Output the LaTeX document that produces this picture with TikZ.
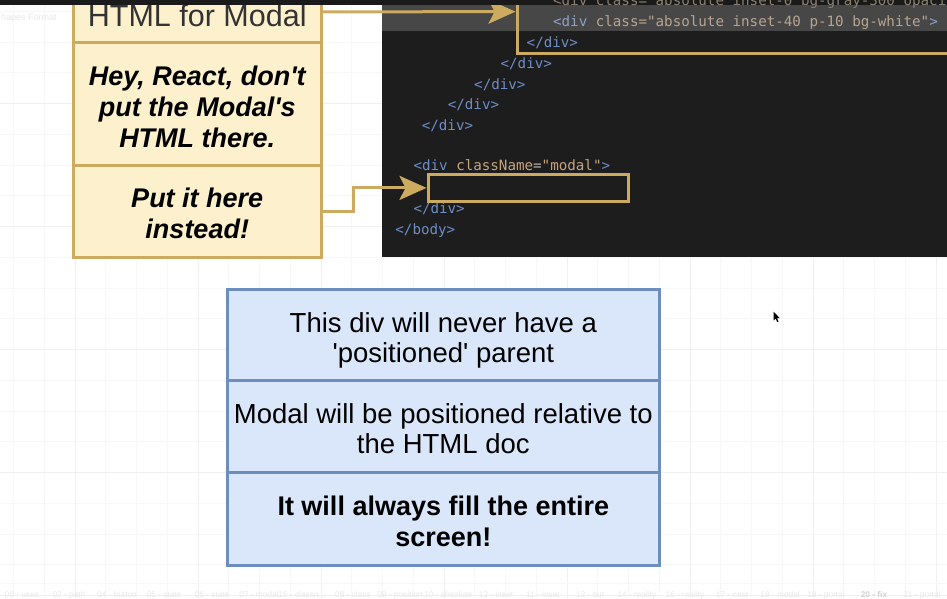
\documentclass[tikz,border=0pt]{standalone}
\usepackage{fontspec}
\setmainfont{Liberation Sans}[Ligatures=TeXOff]
\newfontfamily\codefont{DejaVu Sans Mono}[Ligatures=TeXOff]
\usetikzlibrary{arrows.meta}
\definecolor{gold}{RGB}{204,171,96}
\definecolor{yfill}{HTML}{FCF1CC}
\definecolor{bfill}{HTML}{DAE7FB}
\definecolor{bstroke}{HTML}{6C8EBF}
\definecolor{codebg}{HTML}{1D1D1D}
\definecolor{hlrow}{HTML}{474747}
\definecolor{topbar}{HTML}{1A1A1A}
\definecolor{tagc}{HTML}{6D8DC6}
\definecolor{attrc}{HTML}{C6A47E}
\definecolor{eqc}{HTML}{B8B8B8}
\definecolor{htag}{HTML}{8EA0C4}
\definecolor{htxt}{HTML}{B8A590}
\definecolor{dimtxt}{HTML}{8A8070}
\definecolor{gridminor}{HTML}{F7F7F7}
\definecolor{gridmajor}{HTML}{F0F0F0}
\definecolor{tabgrey}{HTML}{E8E8E8}
\definecolor{tabdark}{HTML}{D2D2D2}
\definecolor{titlec}{HTML}{333333}
\newcommand\tg[1]{\textcolor{tagc}{#1}}
\newcommand\at[1]{\textcolor{attrc}{#1}}
\newcommand\eq[1]{\textcolor{eqc}{#1}}
\newcommand\htg[1]{\textcolor{htag}{#1}}
\newcommand\htx[1]{\textcolor{htxt}{#1}}
\begin{document}
\begin{tikzpicture}[x=1pt,y=-1pt,
  yrow/.style={draw=gold, fill=yfill, line width=3pt, minimum width=247.5pt, inner sep=0pt},
  brow/.style={draw=bstroke, fill=bfill, line width=3pt, minimum width=432pt, inner sep=0pt},
  hlbox/.style={draw=gold, line width=3pt, inner sep=0pt},
  conn/.style={draw=gold, line width=3pt, -{Stealth[length=27pt,width=24pt,inset=6pt]}},
  txt/.style={inner sep=0pt, align=center},
  code/.style={inner sep=0pt, anchor=base west, font=\codefont\fontsize{14.2}{16}\selectfont},
  tab/.style={inner sep=0pt, anchor=base, font=\fontsize{8.3}{10}\selectfont, text=tabgrey},
  tbtext/.style={inner sep=0pt, anchor=base west, font=\fontsize{9}{11}\selectfont, text=tabgrey}
]
\useasboundingbox (0,0) rectangle (947,598);
\fill[white] (0,0) rectangle (947,598);
% grid
\foreach \i in {0,...,30} {\draw[gridminor, line width=0.8pt] ({13.45+30.75*\i},0) -- ({13.45+30.75*\i},598);}
\foreach \j in {0,...,19} {\draw[gridminor, line width=0.8pt] (0,{11.25+30.75*\j}) -- (947,{11.25+30.75*\j});}
\foreach \i in {2,6,...,30} {\draw[gridmajor, line width=0.9pt] ({13.45+30.75*\i},0) -- ({13.45+30.75*\i},598);}
\foreach \j in {3,7,...,19} {\draw[gridmajor, line width=0.9pt] (0,{11.25+30.75*\j}) -- (947,{11.25+30.75*\j});}
% toolbar remnants
\node[tbtext] (tb1) at (1,20) {hapes};
\node[tbtext] (tb2) at (28,20) {Format};
% code panel
\fill[codebg] (382,0) rectangle (947,257);
\fill[hlrow] (382,4.7) rectangle (947,31);
\node[code] (c2) at (552.9,26.5) {\htg{<div} \htx{class="absolute inset-40 p-10 bg-white"}\htg{>}};
\node[code] (c3) at (526.5,47.5) {\tg{</div>}};
\node[code] (c4) at (500.4,68.5) {\tg{</div>}};
\node[code] (c5) at (474,89.3) {\tg{</div>}};
\node[code] (c6) at (447.6,109.8) {\tg{</div>}};
\node[code] (c7) at (421.6,130.8) {\tg{</div>}};
\node[code] (c8) at (413.3,170.5) {\tg{<div} \at{className}\eq{=}\at{"modal"}\tg{>}};
\node[code] (c9) at (413.3,213.5) {\tg{</div>}};
\node[code] (c10) at (395.2,234.5) {\tg{</body>}};
% left yellow box
\node[yrow, minimum height=60.9pt] (y1) at (197.25,11.85) {};
\node[yrow, minimum height=122.7pt] (y2) at (197.25,103.65) {};
\node[yrow, minimum height=92.7pt] (y3) at (197.25,211.35) {};
\node[inner sep=0pt, anchor=base, text=titlec, font=\fontsize{30.5}{34}\selectfont] (yt1) at (197.25,26.7) {HTML for Modal};
\node[txt, font=\fontsize{27}{31}\selectfont\bfseries\itshape] (yt2) at (197.25,106.4) {Hey, React, don't\\put the Modal's\\HTML there.};
\node[txt, font=\fontsize{27}{31}\selectfont\bfseries\itshape] (yt3) at (197.25,213.2) {Put it here\\instead!};
% blue box
\node[brow, minimum height=90.7pt] (b1) at (443.3,334.65) {};
\node[brow, minimum height=92.7pt] (b2) at (443.3,426.35) {};
\node[brow, minimum height=93pt] (b3) at (443.3,519.2) {};
\node[txt, font=\fontsize{27.5}{30}\selectfont] (bt1) at (443.3,339.9) {This div will never have a\\'positioned' parent};
\node[txt, font=\fontsize{27.5}{30}\selectfont] (bt2) at (443.3,428.7) {Modal will be positioned relative to\\the HTML doc};
\node[txt, font=\fontsize{27}{31}\selectfont\bfseries] (bt3) at (443.3,521.5) {It will always fill the entire\\screen!};
% highlight boxes in code
\node[hlbox, minimum width=443pt, minimum height=83.3pt] (h1) at (738.5,11.65) {};
\node[hlbox, minimum width=200pt, minimum height=27.7pt] (h2) at (528,187.9) {};
% connectors
\draw[conn] (y1.east) -- (h1.west);
\draw[conn] (y3.east) -- ++(31,0) |- (h2.west);
% top bar and clipped top code line
\fill[topbar] (0,0) rectangle (947,4.7);
\node[code] (c1) at (552.9,5.5) {\textcolor{dimtxt}{<div class="absolute inset-0 bg-gray-300 opacity-80"></div>}};
% bottom tab bar
\draw[gridminor, line width=1pt] (0,583.3) -- (947,583.3);
\node[tab] (t1) at (22,597) {06 - uses};
\node[tab] (t2) at (69,597) {02 - path};
\node[tab] (t3) at (117,597) {04 - button};
\node[tab] (t4) at (164,597) {05 - state};
\node[tab] (t5) at (212,597) {06 - state};
\node[tab] (t6) at (259,597) {07 - modal};
\node[tab] (t7) at (302,597) {15 - classn...};
\node[tab] (t8) at (353,597) {08 - class};
\node[tab] (t9) at (400,597) {09 - position};
\node[tab] (t10) at (448,597) {10 - absolute};
\node[tab] (t11) at (496,597) {12 - inset};
\node[tab] (t12) at (543,597) {11 - inset};
\node[tab] (t13) at (590,597) {13 - out};
\node[tab] (t14) at (637,597) {14 - reality};
\node[tab] (t15) at (685,597) {16 - reality};
\node[tab] (t16) at (732,597) {17 - nest};
\node[tab] (t17) at (780,597) {18 - modal};
\node[tab] (t18) at (826,597) {19 - portal};
\node[tab, text=tabdark, font=\fontsize{8.3}{10}\selectfont\bfseries] (t19) at (874,597) {20 - fix};
\node[tab] (t20) at (922,597) {21 - portal};
% mouse cursor
\fill[black] (773.5,311.5) -- (773.5,320.5) -- (775.6,318.6) -- (777.2,322) -- (778.5,321.4) -- (776.9,318) -- (779.6,318) -- cycle;
\end{tikzpicture}
\end{document}
